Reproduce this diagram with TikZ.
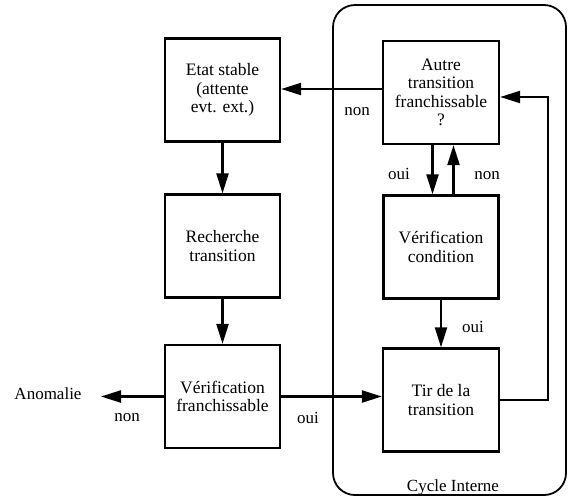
\documentclass[tikz,border=0pt]{standalone}
\usepackage{fontspec}
\setmainfont{Liberation Serif}
\usetikzlibrary{arrows.meta}
\begin{document}
\begin{tikzpicture}[x=1pt,y=-1pt,
  box/.style={draw, line width=2.3pt, minimum width=115pt, minimum height=103pt,
    align=center, inner sep=0pt, font=\fontsize{17.5}{18.5}\selectfont},
  lbl/.style={inner sep=0pt, font=\fontsize{17}{18}\selectfont},
  arr/.style={line width=2.3pt, -{Triangle[length=20pt,width=12pt]}}]
\useasboundingbox (0,0) rectangle (570,499);
\draw[line width=1.8pt, rounded corners=22pt] (333,5) rectangle (566,495);
\node[box] (etat) at (222.5,90) {Etat stable\\(attente\\evt. ext.)};
\node[box] (rech) at (222.5,246) {Recherche\\transition};
\node[box] (vf) at (222.5,396.5) {Vérification\\franchissable};
\node[box, minimum width=116pt] (autre) at (441,92.5) {Autre\\transition\\franchissable\\?};
\node[box] (vc) at (441,247) {Vérification\\condition};
\node[box, minimum width=116pt] (tir) at (441,400) {Tir de la\\transition};
\node[lbl] (anom) at (48,394) {Anomalie};
\coordinate (atip) at (101,396.5);
\coordinate (rt) at (548,400);
\draw[arr] (etat.south) -- (rech.north);
\draw[arr] (rech.south) -- (vf.north);
\draw[arr] (vf.west) -- (atip);
\draw[arr] (vf.east) -- (vf.east -| tir.west);
\draw[arr] (tir.east) -- (rt) |- ([yshift=-4.5pt]autre.east);
\draw[arr] ([yshift=3.5pt]autre.west) -- ([yshift=3.5pt]autre.west -| etat.east);
\draw[arr] ([xshift=-8.5pt]autre.south) -- ([xshift=-8.5pt]vc.north);
\draw[arr] ([xshift=12.5pt]vc.north) -- ([xshift=12.5pt]autre.south);
\draw[arr] (vc.south) -- (tir.north);
\node[lbl] (l1) at (357,112) {non};
\node[lbl] (l2) at (399,174) {oui};
\node[lbl] (l3) at (487,176) {non};
\node[lbl] (l4) at (473,327) {oui};
\node[lbl] (l5) at (127,418) {non};
\node[lbl] (l6) at (308,418) {oui};
\node[lbl] (cyc) at (453,487) {Cycle Interne};
\end{tikzpicture}
\end{document}
